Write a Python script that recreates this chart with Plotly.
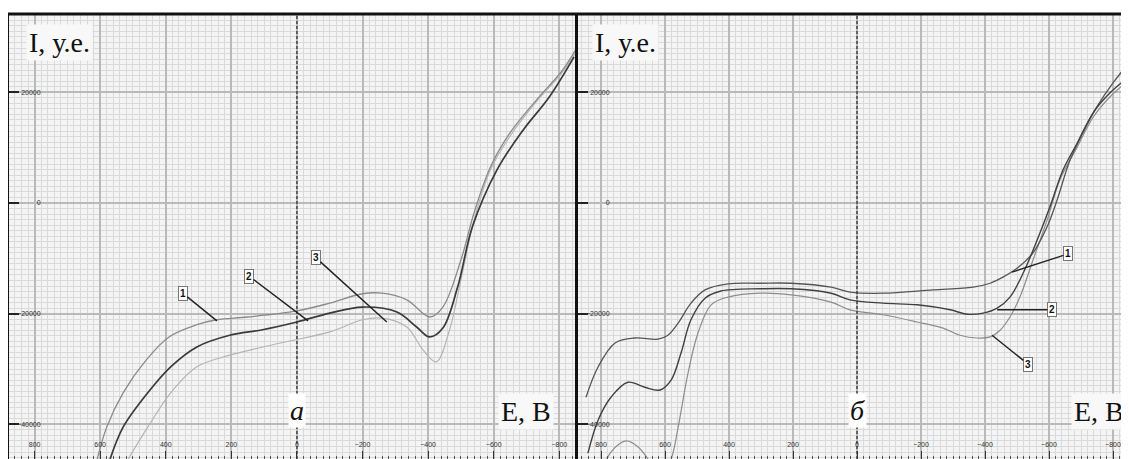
import plotly.graph_objects as go

# ---------------- data (E in mV, I in arbitrary units) ----------------
a1_E = [610, 580, 530, 460, 390, 305, 245, 150, 0, -100, -200, -260, -335, -405, -445, -500, -540, -590, -650, -730, -810, -855]
a1_I = [-46500, -40500, -34300, -28400, -24200, -22000, -21100, -20600, -19500, -18100, -16400, -16300, -17500, -20600, -18800, -10300, -1800, 6500, 12700, 18600, 24000, 28200]

a2_E = [570, 530, 455, 385, 305, 205, 105, 0, -100, -200, -305, -365, -405, -445, -490, -535, -610, -690, -770, -845]
a2_I = [-46300, -40500, -34300, -29600, -26000, -23900, -22900, -21500, -19900, -18800, -19700, -22400, -24200, -22600, -15200, -4300, 6000, 13200, 19200, 26400]

a3_E = [515, 455, 385, 305, 205, 50, -100, -200, -260, -335, -385, -425, -465, -500, -540, -590, -650, -730, -810, -855]
a3_I = [-46300, -40500, -34300, -29600, -27500, -25300, -23300, -21100, -20800, -22400, -26600, -28700, -23000, -13900, -3100, 6000, 12100, 18300, 23700, 27700]

b1_E = [847, 809, 756, 694, 622, 591, 559, 519, 475, 403, 300, 206, 81, 22, -81, -238, -363, -416, -456, -500, -550, -594, -625, -666, -706, -750, -800, -850]
b1_I = [-35100, -29600, -25300, -24400, -24600, -23900, -21700, -18100, -15700, -14600, -14500, -14500, -15200, -16100, -16300, -15700, -15200, -14500, -13400, -11800, -9000, -4300, 500, 7800, 12700, 17400, 21700, 25300]

b2_E = [841, 809, 769, 716, 663, 616, 581, 550, 519, 475, 425, 300, 206, 81, 22, -81, -188, -291, -344, -394, -438, -478, -519, -563, -603, -644, -688, -738, -791, -850]
b2_I = [-45200, -39200, -35100, -32400, -33300, -33800, -32000, -27100, -21100, -17200, -15900, -15500, -15500, -16300, -17500, -18100, -18400, -19300, -20100, -19900, -19000, -17000, -12700, -6700, -700, 6000, 10800, 16300, 19900, 22800]

b3_E = [803, 769, 722, 684, 647, 616, 581, 559, 528, 497, 456, 403, 300, 206, 81, 22, -81, -188, -269, -322, -375, -416, -447, -478, -509, -550, -594, -634, -688, -738, -791, -850]
b3_I = [-49200, -45000, -43000, -44100, -46800, -50000, -46300, -40500, -30700, -23500, -18400, -17000, -16300, -16600, -17900, -19300, -20200, -21500, -22600, -23900, -24400, -24200, -23000, -20600, -17000, -10300, -3100, 4200, 10100, 15500, 19200, 22200]

# callouts: label, label position (E, I), target (E, I)
a_call_labels = ["1", "2", "3"]
a_call_lab_E = [348, 146, -58]
a_call_lab_I = [-16300, -13200, -9900]
a_call_tgt_E = [244, -34, -274]
a_call_tgt_I = [-21300, -21300, -21500]

b_call_labels = ["1", "2", "3"]
b_call_lab_E = [-659, -609, -534]
b_call_lab_I = [-9200, -19300, -29100]
b_call_tgt_E = [-484, -438, -422]
b_call_tgt_I = [-12500, -19300, -23900]

panel_names = ["а", "б"]
y_label = "I, у.е."
x_label = "E, В"

# ---------------- figure ----------------
# the page body has an 8 px margin, so the figure origin sits at (8, 8)
W, H = 1121, 451
fig = go.Figure()

def add(x, y, xa, ya, color, width):
    fig.add_trace(go.Scatter(x=x, y=y, mode="lines", xaxis=xa, yaxis=ya,
                             line=dict(color=color, width=width, shape="spline", smoothing=1.0),
                             showlegend=False, hoverinfo="skip"))

add(a3_E, a3_I, "x", "y", "#b4b4b4", 1.2)
add(a1_E, a1_I, "x", "y", "#8a8a8a", 1.3)
add(a2_E, a2_I, "x", "y", "#3a3a3a", 1.7)
add(b3_E, b3_I, "x2", "y2", "#8c8c8c", 1.2)
add(b1_E, b1_I, "x2", "y2", "#555555", 1.3)
add(b2_E, b2_I, "x2", "y2", "#404040", 1.4)

ytop = 1 - 6 / H
yrange = [-46260, 34150]
dom_a = [1 / W, 569 / W]
dom_b = [570 / W, 1.0]

def xax(domain, rng, anchor):
    return dict(domain=domain, range=rng, anchor=anchor, tick0=0, dtick=200,
                showgrid=True, gridcolor="#b9b9b9", gridwidth=2, zeroline=False,
                ticks="inside", ticklen=8, tickcolor="#333", tickwidth=1,
                ticklabelposition="outside", ticklabelstandoff=-21, ticklabeloverflow="allow",
                tickfont=dict(size=7, color="#333", family="Arial"),
                showline=True, linecolor="#555", linewidth=1,
                minor=dict(dtick=20, showgrid=True, gridcolor="#dadada", gridwidth=1,
                           ticks="inside", ticklen=3, tickcolor="#555"))

def yax(anchor):
    return dict(domain=[0, ytop], range=yrange, anchor=anchor, tick0=0, dtick=20000,
                showgrid=True, gridcolor="#b9b9b9", gridwidth=2, zeroline=False,
                ticks="inside", ticklen=10, tickcolor="#222", tickwidth=1.5,
                ticklabelposition="outside", ticklabelstandoff=-36, ticklabeloverflow="allow",
                tickformat="d",
                tickfont=dict(size=7, color="#333", family="Arial"),
                showline=True, linecolor="#111", linewidth=3,
                minor=dict(dtick=1000, showgrid=True, gridcolor="#dadada", gridwidth=1))

def ytick(anchor, over):
    return dict(domain=[0, ytop], range=yrange, anchor=anchor, overlaying=over, tick0=0,
                dtick=2000, showgrid=False, zeroline=False, showticklabels=False,
                ticks="inside", ticklen=4, tickcolor="#222", tickwidth=1.5, showline=False)

fig.update_layout(
    width=W, height=H, margin=dict(l=0, r=0, t=0, b=0),
    paper_bgcolor="white", plot_bgcolor="#f4f4f4",
    xaxis=xax(dom_a, [878, -854], "y"),
    yaxis=yax("x"),
    xaxis2=xax(dom_b, [872, -850], "y2"),
    yaxis2=yax("x2"),
    yaxis3=ytick("x", "y"),
    yaxis4=ytick("x2", "y2"),
)

# dashed zero lines and top border
for xr in ["x", "x2"]:
    fig.add_shape(type="line", xref=xr, yref="paper", x0=0, x1=0, y0=0, y1=ytop,
                  line=dict(color="#333", width=1.3, dash="3px,2px"))
fig.add_shape(type="line", xref="paper", yref="paper", x0=0, x1=1, y0=ytop, y1=ytop,
              line=dict(color="#111", width=3))

# axis-name labels
serif = "Liberation Serif"
for xp in [18 / W, 584 / W]:
    fig.add_annotation(xref="paper", yref="paper", x=xp, y=1 - 34 / H, xanchor="left", yanchor="middle",
                       text=y_label, showarrow=False, bgcolor="#f8f8f8", borderpad=2,
                       font=dict(family=serif, size=28, color="#111"))
for xp in [490 / W, 1063 / W]:
    fig.add_annotation(xref="paper", yref="paper", x=xp, y=1 - 403 / H, xanchor="left", yanchor="middle",
                       text=x_label, showarrow=False, bgcolor="#f8f8f8", borderpad=2,
                       font=dict(family=serif, size=28, color="#111"))
for xr, name in zip(["x", "x2"], panel_names):
    fig.add_annotation(xref=xr, yref="paper", x=0, y=1 - 402 / H, xanchor="center", yanchor="middle",
                       text="<i>" + name + "</i>", showarrow=False, bgcolor="white", borderpad=1,
                       font=dict(family=serif, size=28, color="#111"))

# numbered callouts
def callouts(xr, yr, labels, lx, ly, tx, ty):
    for t, a, b, c, d in zip(labels, lx, ly, tx, ty):
        fig.add_annotation(xref=xr, yref=yr, axref=xr, ayref=yr, x=c, y=d, ax=a, ay=b,
                           text="<b>" + t + "</b>", showarrow=True, arrowhead=0,
                           arrowwidth=1.4, arrowcolor="#222", bgcolor="white",
                           bordercolor="#777", borderwidth=1, borderpad=1,
                           font=dict(family="Arial", size=10, color="#111"))

callouts("x", "y", a_call_labels, a_call_lab_E, a_call_lab_I, a_call_tgt_E, a_call_tgt_I)
callouts("x2", "y2", b_call_labels, b_call_lab_E, b_call_lab_I, b_call_tgt_E, b_call_tgt_I)

fig.write_html("out.html")
